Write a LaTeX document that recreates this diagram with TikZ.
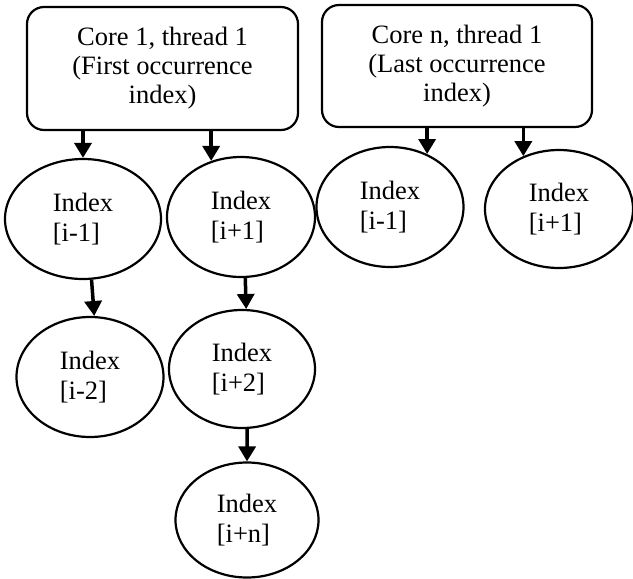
\documentclass[tikz,border=0pt]{standalone}
\usepackage{fontspec}
\setmainfont{Liberation Serif}
\usetikzlibrary{shapes.geometric,arrows.meta}
\begin{document}
\begin{tikzpicture}[x=1pt,y=-1pt,
  corebox/.style={draw,line width=2.2pt,rounded corners=17pt,inner sep=0pt,
    align=center,font=\fontsize{26.5}{29}\selectfont},
  idx/.style={draw,ellipse,line width=2.2pt,inner sep=0pt,
    align=left,font=\fontsize{26.5}{30}\selectfont},
  link/.style={line width=3.5pt,-{Triangle[width=17pt,length=15pt]}}]
\useasboundingbox (0,0) rectangle (633,579);

% thread boxes
\node[corebox,minimum width=271pt,minimum height=123pt] (c1) at (162.5,68.5)
  {Core 1, thread 1\\(First occurrence\\index)};
\node[corebox,minimum width=270pt,minimum height=122pt] (cn) at (457,66)
  {Core n, thread 1\\(Last occurrence\\index)};

% index nodes
\node[idx,minimum width=156pt,minimum height=120pt] (a) at (83,219) {Index\\{[i-1]}};
\node[idx,minimum width=148pt,minimum height=120pt] (b) at (241,217) {Index\\{[i+1]}};
\node[idx,minimum width=147pt,minimum height=120pt] (c) at (390,207) {Index\\{[i-1]}};
\node[idx,minimum width=148pt,minimum height=118pt] (d) at (559,209) {Index\\{[i+1]}};
\node[idx,minimum width=147pt,minimum height=120pt] (e) at (90,377) {Index\\{[i-2]}};
\node[idx,minimum width=146pt,minimum height=118pt] (f) at (242,369) {Index\\{[i+2]}};
\node[idx,minimum width=143pt,minimum height=115pt] (g) at (247,520) {Index\\{[i+n]}};

% connectors
\draw[link] (a.north |- c1.south) -- (a.north);
\draw[link] (b.118 |- c1.south) -- (b.118);
\draw[link] (c.55 |- cn.south) -- (c.55);
\draw[link] (d.124 |- cn.south) -- (d.124);
\draw[link] (a.-82) -- (e.86);
\draw[link] (b.-86) -- (f.86);
\draw[link] (f.-85) -- (g.north);
\end{tikzpicture}
\end{document}
